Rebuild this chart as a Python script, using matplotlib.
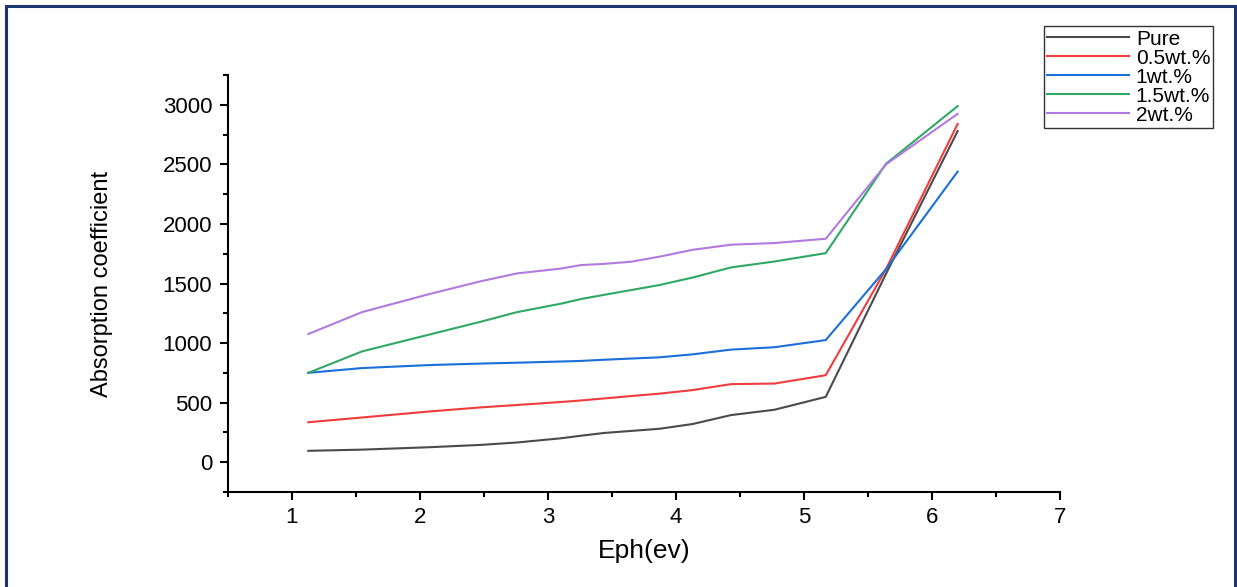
import matplotlib
matplotlib.use("Agg")
import matplotlib.pyplot as plt
from matplotlib.patches import Rectangle
from matplotlib.ticker import MultipleLocator

# photon energy (eV)
eph = [1.13, 1.55, 2.07, 2.48, 2.76, 3.10, 3.26, 3.44, 3.65, 3.87, 4.13, 4.43, 4.77, 5.17, 5.64, 6.20]

pure = [95, 105, 125, 145, 165, 200, 222, 245, 262, 280, 320, 395, 440, 548, 1580, 2780]
wt05 = [335, 375, 425, 460, 480, 505, 518, 535, 555, 575, 605, 655, 660, 730, 1620, 2840]
wt1 = [750, 790, 815, 828, 835, 845, 850, 860, 870, 880, 905, 945, 965, 1025, 1620, 2440]
wt15 = [750, 930, 1070, 1180, 1260, 1330, 1370, 1405, 1445, 1487, 1550, 1635, 1685, 1755, 2505, 2990]
wt2 = [1076, 1260, 1410, 1520, 1585, 1625, 1655, 1665, 1683, 1725, 1783, 1826, 1840, 1876, 2500, 2925]

labels = ["Pure", "0.5wt.%", "1wt.%", "1.5wt.%", "2wt.%"]
colors = ["#4a4a4a", "#f03c3c", "#1a6fd8", "#2fa866", "#b07ae0"]

plt.rcParams['font.family'] = ['Liberation Sans', 'DejaVu Sans']

fig = plt.figure(figsize=(12.37, 5.87), dpi=100)
ax = fig.add_axes([0.184, 0.162, 0.673, 0.710])

for y, lab, c in zip([pure, wt05, wt1, wt15, wt2], labels, colors):
    ax.plot(eph, y, color=c, lw=1.5, label=lab)

ax.set_xlim(0.5, 7)
ax.set_ylim(-250, 3250)
ax.xaxis.set_major_locator(MultipleLocator(1))
ax.xaxis.set_minor_locator(MultipleLocator(0.5))
ax.yaxis.set_major_locator(MultipleLocator(500))
ax.yaxis.set_minor_locator(MultipleLocator(250))
ax.spines['top'].set_visible(False)
ax.spines['right'].set_visible(False)
for s in ['left', 'bottom']:
    ax.spines[s].set_linewidth(1.5)
ax.tick_params(which='major', direction='out', length=6, width=1.5, labelsize=16, pad=5)
ax.tick_params(which='minor', direction='out', length=3.5, width=1.5)

ax.set_xlabel("Eph(ev)", fontsize=19, labelpad=8)
ax.set_ylabel("Absorption coefficient", fontsize=17, labelpad=36)

leg = fig.legend(loc='upper right', bbox_to_anchor=(0.981, 0.955), fontsize=15,
                 frameon=True, fancybox=False, borderpad=0.15, labelspacing=0.0,
                 handlelength=3.9, handletextpad=0.35, borderaxespad=0)
leg.get_frame().set_edgecolor('black')
leg.get_frame().set_linewidth(1.0)

# outer border
fig.patches.append(Rectangle((6 / 1237, -0.05), 1229 / 1237, 1.05 - 6 / 587,
                             transform=fig.transFigure, fill=False,
                             edgecolor='#1c3570', linewidth=2.2))

fig.savefig("out.png", dpi=100)
